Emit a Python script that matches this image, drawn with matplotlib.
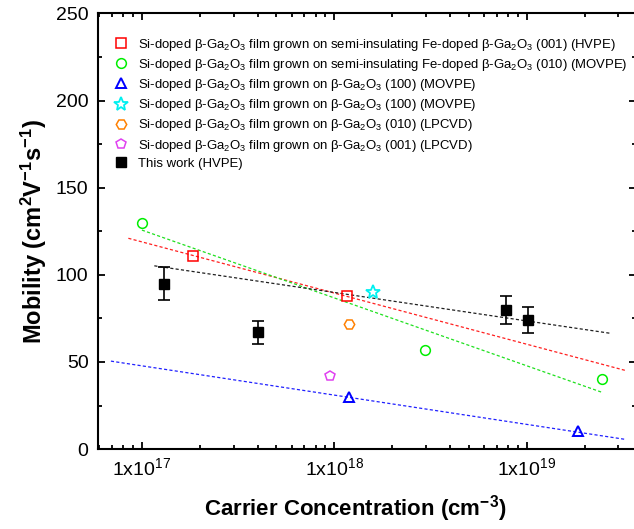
import numpy as np
import matplotlib
matplotlib.use("Agg")
import matplotlib.pyplot as plt
from matplotlib.ticker import LogLocator, FixedLocator, MultipleLocator, NullFormatter

plt.rcParams['font.family'] = ['Liberation Sans', 'DejaVu Sans']
plt.rcParams['mathtext.fontset'] = 'custom'
plt.rcParams['mathtext.rm'] = 'Liberation Sans'
plt.rcParams['mathtext.it'] = 'Liberation Sans:italic'
plt.rcParams['mathtext.bf'] = 'Liberation Sans:bold'

# ---- data ----
labels = [
    r"Si-doped β-Ga$_2$O$_3$ film grown on semi-insulating Fe-doped β-Ga$_2$O$_3$ (001) (HVPE)",
    r"Si-doped β-Ga$_2$O$_3$ film grown on semi-insulating Fe-doped β-Ga$_2$O$_3$ (010) (MOVPE)",
    r"Si-doped β-Ga$_2$O$_3$ film grown on β-Ga$_2$O$_3$ (100) (MOVPE)",
    r"Si-doped β-Ga$_2$O$_3$ film grown on β-Ga$_2$O$_3$ (100) (MOVPE)",
    r"Si-doped β-Ga$_2$O$_3$ film grown on β-Ga$_2$O$_3$ (010) (LPCVD)",
    r"Si-doped β-Ga$_2$O$_3$ film grown on β-Ga$_2$O$_3$ (001) (LPCVD)",
    "This work (HVPE)",
]

red_x = [1.84e17, 1.17e18]
red_y = [111, 88]
green_x = [1.0e17, 2.98e18, 2.48e19]
green_y = [130, 57, 40]
blue_x = [1.19e18, 1.84e19]
blue_y = [30, 10.5]
cyan_x = [1.59e18]
cyan_y = [90]
orange_x = [1.19e18]
orange_y = [72]
magenta_x = [9.45e17]
magenta_y = [42]
black_x = [1.31e17, 4.03e17, 7.85e18, 1.02e19]
black_y = [95, 67, 80, 74]
black_err = [9.6, 6.8, 8.0, 7.6]

# dashed fit lines (start/end)
fit_red_x = [8.5e16, 3.3e19]
fit_red_y = [121, 45]
fit_green_x = [1.0e17, 2.48e19]
fit_green_y = [125.7, 32.5]
fit_blue_x = [6.9e16, 3.3e19]
fit_blue_y = [50.5, 5.5]
fit_black_x = [1.16e17, 2.75e19]
fit_black_y = [105.2, 66.4]

x_ticks = [1e17, 1e18, 1e19]
x_ticklabels = [r"1x10$^{17}$", r"1x10$^{18}$", r"1x10$^{19}$"]
y_ticks = [0, 50, 100, 150, 200, 250]

# ---- plot ----
fig = plt.figure(figsize=(6.34, 5.29), dpi=100)
ax = fig.add_axes([0.155, 0.151, 0.848, 0.8235])

dash = dict(ls=(0, (2.5, 1.8)), lw=0.9)
ax.plot(fit_red_x, fit_red_y, color='#ff2020', **dash)
ax.plot(fit_green_x, fit_green_y, color='#20e020', **dash)
ax.plot(fit_blue_x, fit_blue_y, color='#2020ff', **dash)
ax.plot(fit_black_x, fit_black_y, color='#202020', **dash)

ms = 6.5
mew = 1.1
ax.plot(red_x, red_y, ls='none', marker='s', ms=ms, mfc='none', mec='#ff0000', mew=mew, label=labels[0])
ax.plot(green_x, green_y, ls='none', marker='o', ms=ms + 0.5, mfc='none', mec='#00ee00', mew=mew, label=labels[1])
ax.plot(blue_x, blue_y, ls='none', marker='^', ms=ms + 1, mfc='none', mec='#0000ff', mew=mew + 0.3, label=labels[2])
ax.plot(cyan_x, cyan_y, ls='none', marker='*', ms=ms + 4, mfc='none', mec='#00f0f0', mew=mew + 0.2, label=labels[3])
ax.plot(orange_x, orange_y, ls='none', marker='H', ms=ms + 1, mfc='none', mec='#ff8000', mew=mew, label=labels[4])
ax.plot(magenta_x, magenta_y, ls='none', marker='p', ms=ms + 1, mfc='none', mec='#e040f0', mew=mew, label=labels[5])
ax.errorbar(black_x, black_y, yerr=black_err, fmt='none', ecolor='black', elinewidth=1.2, capsize=4.5, capthick=1.2)
ax.plot(black_x, black_y, ls='none', marker='s', ms=ms + 0.5, color='black', label=labels[6])

ax.set_xscale('log')
ax.set_xlim(5.93e16, 3.7e19)
ax.set_ylim(0, 250)

ax.xaxis.set_major_locator(FixedLocator(x_ticks))
ax.set_xticklabels(x_ticklabels)
ax.xaxis.set_minor_locator(LogLocator(base=10, subs=np.arange(2, 10)))
ax.xaxis.set_minor_formatter(NullFormatter())
ax.set_yticks(y_ticks)
ax.yaxis.set_minor_locator(MultipleLocator(25))

ax.tick_params(which='both', direction='in', top=True, right=True, labelsize=14, width=1.3)
ax.tick_params(which='major', length=5)
ax.tick_params(which='minor', length=3)
ax.tick_params(axis='x', pad=6)
ax.tick_params(axis='y', pad=7)
for s in ax.spines.values():
    s.set_linewidth(1.5)

ax.set_xlabel(r"Carrier Concentration (cm$^{\mathbf{-3}}$)", fontsize=16, fontweight='bold')
ax.xaxis.set_label_coords(0.478, -0.1)
ax.set_ylabel(r"Mobility (cm$^{\mathbf{2}}$V$^{\mathbf{-1}}$s$^{\mathbf{-1}}$)", fontsize=17, fontweight='bold', labelpad=5)

ax.legend(loc='upper left', bbox_to_anchor=(0.015, 0.965), frameon=False, fontsize=9.45,
          handlelength=1.0, handletextpad=0.8, labelspacing=0.32, borderaxespad=0.2, numpoints=1)

fig.savefig('out.png', dpi=100)
